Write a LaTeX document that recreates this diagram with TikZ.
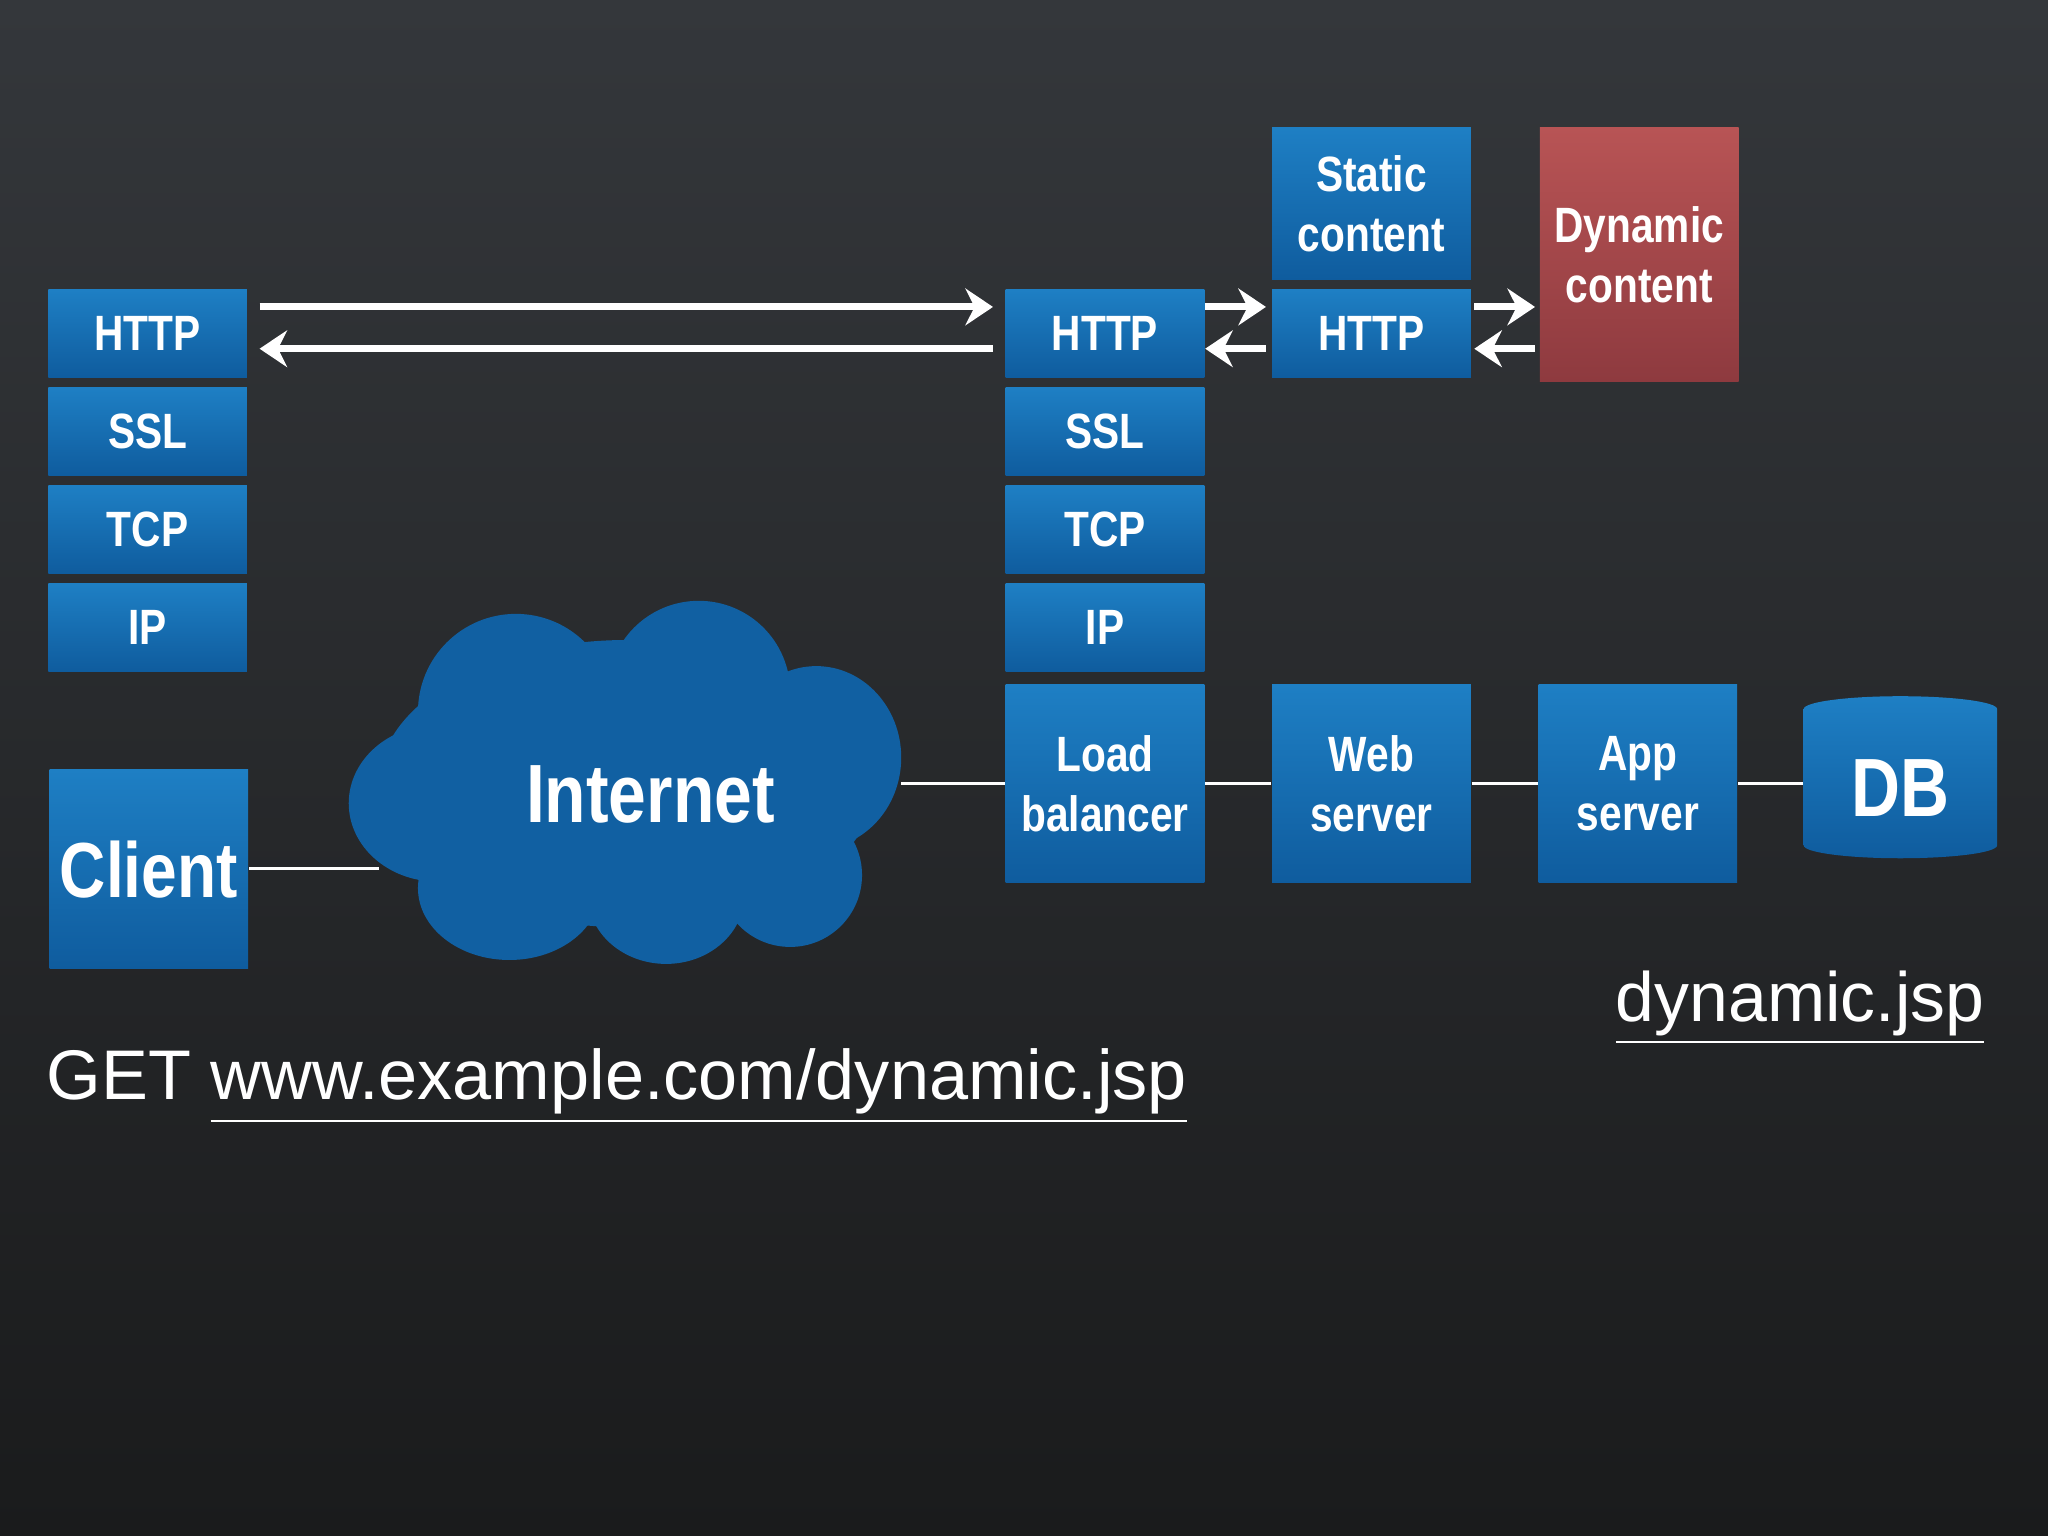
\documentclass[tikz,border=0pt]{standalone}
\usepackage{fontspec}
\setmainfont{Liberation Sans}
\newfontfamily\cond[FakeStretch=0.82]{Liberation Sans}
\usetikzlibrary{shapes.geometric,arrows.meta}
\definecolor{boxtop}{HTML}{1E7FC4}
\definecolor{boxbot}{HTML}{0F5C9E}
\definecolor{redtop}{HTML}{B85455}
\definecolor{redbot}{HTML}{8E3A3F}
\definecolor{bgtop}{HTML}{34373B}
\definecolor{bgbot}{HTML}{1A1B1C}
\tikzset{
 layer/.style={rectangle,minimum width=1.52cm,minimum height=0.67cm,top color=boxtop,bottom color=boxbot,text=white,font=\cond\bfseries\fontsize{10.8}{13}\selectfont,align=center,inner sep=0pt},
 big/.style={layer,minimum height=1.52cm},
 conn/.style={white,line width=0.6pt},
 arr/.style={white,line width=1.5pt,-{Stealth[length=6pt,width=8pt,inset=2pt]}},
}
\begin{document}
\begin{tikzpicture}[x=0.01cm,y=-0.01cm]
\shade[top color=bgtop,bottom color=bgbot] (0,0) rectangle (1568,1176);
\useasboundingbox (0,0) rectangle (1568,1176);
\coordinate (ya) at (0,235);
\coordinate (yb) at (0,267);
% client stack
\node[layer] (ch) at (113,255.5) {HTTP};
\node[layer] (cs) at (113,330.5) {SSL};
\node[layer] (ct) at (113,405.5) {TCP};
\node[layer] (ci) at (113,480.5) {IP};
% server stack
\node[layer] (sh) at (846,255.5) {HTTP};
\node[layer] (ss) at (846,330.5) {SSL};
\node[layer] (st) at (846,405.5) {TCP};
\node[layer] (si) at (846,480.5) {IP};
\node[big] (lb) at (846,600) {Load\\balancer};
\node[big] (ws) at (1050,600) {Web\\server};
\node[big] (as) at (1254,600) {App\\server};
\node[layer] (wh) at (1050,255.5) {HTTP};
\node[layer,minimum height=1.16cm] (sc) at (1050,156) {Static\\content};
\node[layer,minimum height=1.94cm,top color=redtop,bottom color=redbot] (dc) at (1255,195) {Dynamic\\content};
\node[big,text width=1.52cm,font=\cond\bfseries\fontsize{17}{20}\selectfont] (cl) at (114,665.5) {Client};
% DB
\node[cylinder,shape border rotate=90,aspect=0.2,minimum width=1.48cm,minimum height=1.24cm,draw=none,
  top color=boxtop,bottom color=boxbot,text=white,font=\cond\bfseries\fontsize{18}{20}\selectfont] (db) at (1455,603) {DB};
% cloud
\begin{scope}
\fill[boxbot!90!boxtop] (480,600) ellipse (190 and 110);
\fill[boxbot!90!boxtop] (395,545) circle (75);
\fill[boxbot!90!boxtop] (535,530) circle (70);
\fill[boxbot!90!boxtop] (625,580) ellipse (65 and 70);
\fill[boxbot!90!boxtop] (335,615) ellipse (68 and 60);
\fill[boxbot!90!boxtop] (390,680) ellipse (70 and 55);
\fill[boxbot!90!boxtop] (510,685) ellipse (60 and 53);
\fill[boxbot!90!boxtop] (605,670) ellipse (55 and 55);
\end{scope}
\node[text=white,font=\cond\bfseries\fontsize{18}{20}\selectfont] (inet) at (498,608) {Internet};
\coordinate (cloudL) at (290,665);
\coordinate (cloudR) at (690,600);
% connectors
\draw[conn] (cl.east |- cloudL) -- (cloudL);
\draw[conn] (cloudR) -- (lb.west);
\draw[conn] (lb) -- (ws);
\draw[conn] (ws) -- (as);
\draw[conn] (as.east) -- (db.west |- as.east);
% arrows
\draw[arr] ([xshift=0.9mm]ch.east |- ya) -- ([xshift=-0.9mm]sh.west |- ya);
\draw[arr] ([xshift=-0.9mm]sh.west |- yb) -- ([xshift=0.9mm]ch.east |- yb);
\draw[arr] (sh.east |- ya) -- ([xshift=-0.4mm]wh.west |- ya);
\draw[arr] ([xshift=-0.4mm]wh.west |- yb) -- (sh.east |- yb);
\draw[arr] ([xshift=0.2mm]wh.east |- ya) -- ([xshift=-0.3mm]dc.west |- ya);
\draw[arr] ([xshift=-0.3mm]dc.west |- yb) -- ([xshift=0.2mm]wh.east |- yb);
% text
\node[anchor=base west,text=white,font=\fontsize{15.3}{18}\selectfont,inner sep=0pt] (get) at (35,842) {GET \underline{www.example.com/dynamic.jsp}};
\node[anchor=base east,text=white,font=\fontsize{15.2}{18}\selectfont,inner sep=0pt] (dj) at (1520,782) {\underline{dynamic.jsp}};
\end{tikzpicture}
\end{document}
